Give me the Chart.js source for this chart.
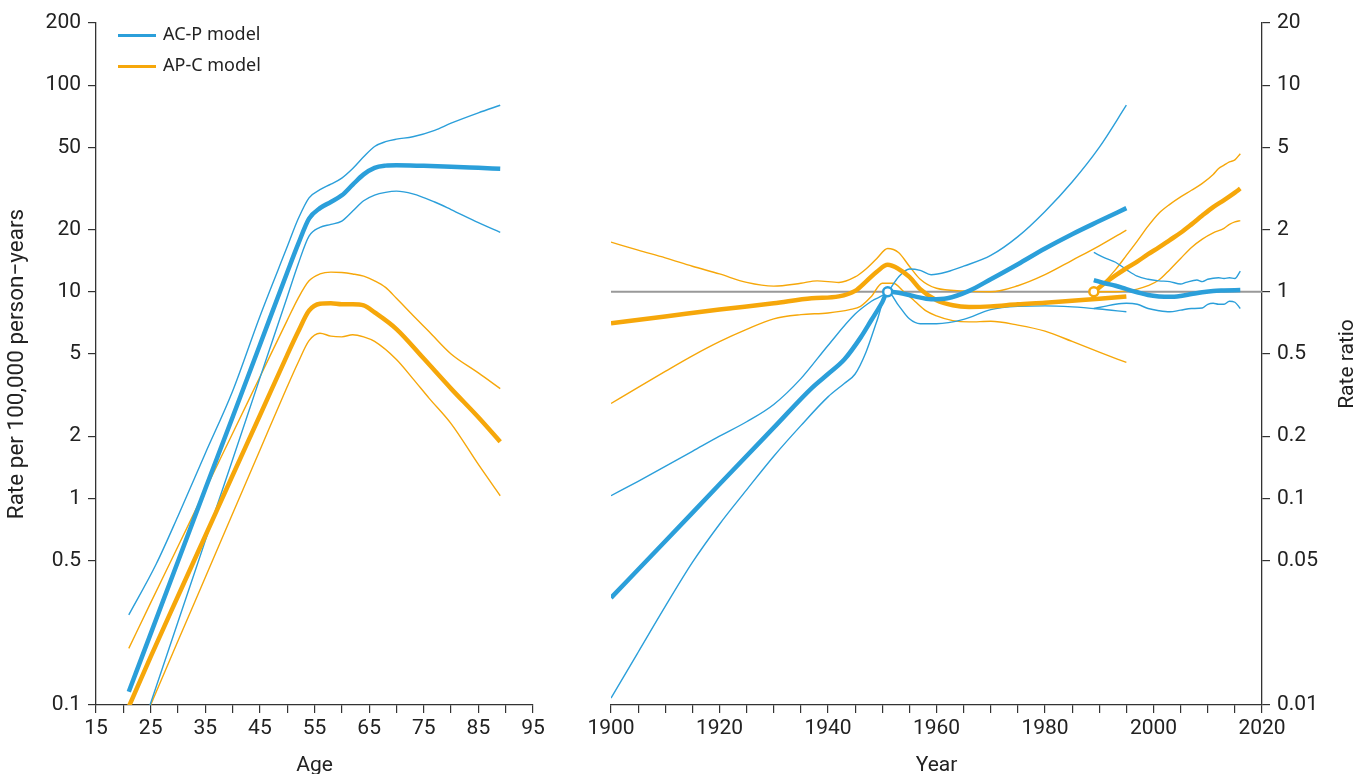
<!DOCTYPE html>
<html>
<head>
<meta charset="utf-8">
<script src="https://cdn.jsdelivr.net/npm/chart.js@4.4.1/dist/chart.umd.min.js"></script>
<style>
  html, body { margin: 0; padding: 0; background: #fff; }
  #wrap { position: relative; width: 1368px; height: 774px; overflow: hidden; }
  #ageChart { position: absolute; left: 0; top: 0; }
  #yearChart { position: absolute; left: 580px; top: 0; }
  .legend { position: absolute; left: 118px; font-family: 'Noto Sans', sans-serif; font-size: 18px; color: #222; }
  .legend span.swatch { position: absolute; left: 0; width: 38px; height: 3px; }
  .legend span.label { position: absolute; left: 45px; top: -13px; white-space: nowrap; }
</style>
</head>
<body>
<div id="wrap">
  <canvas id="ageChart" width="560" height="774"></canvas>
  <canvas id="yearChart" width="788" height="774"></canvas>
  <div class="legend" style="top:34px"><span class="swatch" style="background:#2b9fda"></span><span class="label">AC-P model</span></div>
  <div class="legend" style="top:65px"><span class="swatch" style="background:#f6a70a"></span><span class="label">AP-C model</span></div>
</div>
<script>
const BLUE = '#2b9fda';
const ORANGE = '#f6a70a';
const INK = '#222';
const AXIS = '#333';

// axis ticks
const ageTicks = [15, 20, 25, 30, 35, 40, 45, 50, 55, 60, 65, 70, 75, 80, 85, 90, 95];
const ageLabels = [15, 25, 35, 45, 55, 65, 75, 85, 95];
const yearTicks = [1900, 1905, 1910, 1915, 1920, 1925, 1930, 1935, 1940, 1945, 1950, 1955, 1960,
  1965, 1970, 1975, 1980, 1985, 1990, 1995, 2000, 2005, 2010, 2015, 2020];
const yearLabels = [1900, 1920, 1940, 1960, 1980, 2000, 2020];
const rateTicks = [0.1, 0.5, 1, 2, 5, 10, 20, 50, 100, 200];
const ratioTicks = [0.01, 0.05, 0.1, 0.2, 0.5, 1, 2, 5, 10, 20];

// age effect, AC-P model (rate per 100,000)
const acpAge = [21, 25, 30, 35, 40, 45, 50, 52, 54, 56, 58, 60, 62, 64, 66, 68, 70, 75, 80, 85, 89];
const acpRate = [0.116, 0.221, 0.495, 1.11, 2.47, 5.53, 12.4, 17.0, 22.6, 25.4, 27.2, 29.3, 33.0, 37.0, 39.8, 40.8, 41.0, 40.7, 40.3, 39.8, 39.4];
const acpUpAge = [21, 26, 30, 35, 40, 45, 50, 52, 54, 56, 58, 60, 62, 64, 66, 68, 70, 73, 77, 80, 85, 89];
const acpRateUp = [0.273, 0.48, 0.82, 1.65, 3.3, 7.6, 16.5, 22.5, 28.5, 31.2, 33.2, 35.5, 39.5, 45, 50.5, 53.3, 54.8, 56.3, 60.5, 65.5, 73.5, 80];
const acpLoAge = [21, 25, 30, 35, 40, 45, 50, 52, 54, 56, 58, 60, 62, 64, 66, 68, 70, 73, 77, 80, 85, 89];
const acpRateLo = [0.049, 0.102, 0.252, 0.623, 1.54, 3.82, 9.44, 13.6, 18.6, 20.5, 21.2, 22.0, 24.6, 27.6, 29.4, 30.3, 30.7, 29.8, 27.2, 25.0, 21.6, 19.4];

// age effect, AP-C model
const apcAge = [21, 25, 30, 35, 40, 45, 50, 52, 54, 56, 58, 60, 62, 64, 66, 70, 75, 80, 85, 89];
const apcRate = [0.098, 0.171, 0.336, 0.658, 1.29, 2.52, 4.94, 6.4, 8.1, 8.75, 8.8, 8.7, 8.7, 8.6, 7.95, 6.6, 4.75, 3.4, 2.47, 1.88];
const apcUpAge = [21, 25, 30, 35, 40, 45, 50, 52, 54, 56, 58, 60, 62, 64, 66, 68, 70, 73, 76, 80, 85, 89];
const apcRateUp = [0.188, 0.312, 0.585, 1.10, 2.06, 3.87, 7.27, 9.3, 11.3, 12.2, 12.45, 12.4, 12.2, 11.9, 11.3, 10.5, 9.3, 7.7, 6.4, 5.0, 4.05, 3.4];
const apcLoAge = [21, 25, 30, 35, 40, 45, 50, 52, 54, 56, 58, 60, 62, 64, 66, 70, 73, 76, 80, 85, 89];
const apcRateLo = [0.057, 0.1, 0.204, 0.414, 0.842, 1.71, 3.47, 4.55, 5.8, 6.3, 6.1, 6.05, 6.2, 6.05, 5.75, 4.7, 3.8, 3.05, 2.3, 1.46, 1.03];

// cohort effect (rate ratio), AC-P model
const acpCohYear = [1900, 1910, 1920, 1930, 1937, 1940, 1943, 1946, 1948, 1950, 1951, 1953, 1956, 1959, 1962, 1966, 1970, 1975, 1980, 1985, 1990, 1995];
const acpCohRR = [0.033, 0.062, 0.117, 0.22, 0.342, 0.40, 0.47, 0.6, 0.73, 0.89, 1.0, 0.99, 0.95, 0.92, 0.93, 1.01, 1.15, 1.36, 1.62, 1.9, 2.2, 2.54];
const acpCohUpYear = [1900, 1905, 1910, 1915, 1920, 1925, 1930, 1935, 1940, 1945, 1948, 1951, 1953, 1955, 1957, 1959, 1962, 1965, 1970, 1975, 1980, 1985, 1990, 1995];
const acpCohUp = [0.103, 0.121, 0.143, 0.169, 0.2, 0.235, 0.285, 0.38, 0.55, 0.78, 0.9, 1.0, 1.18, 1.29, 1.27, 1.21, 1.25, 1.33, 1.5, 1.85, 2.45, 3.4, 5.0, 8.0];
const acpCohLoYear = [1900, 1905, 1910, 1915, 1920, 1925, 1930, 1935, 1940, 1943, 1945, 1947, 1949, 1951, 1953, 1955, 1957, 1960, 1965, 1970, 1975, 1980, 1985, 1990, 1995];
const acpCohLo = [0.0108, 0.018, 0.03, 0.049, 0.075, 0.11, 0.16, 0.225, 0.31, 0.36, 0.40, 0.51, 0.72, 1.0, 0.86, 0.74, 0.70, 0.70, 0.735, 0.82, 0.85, 0.855, 0.845, 0.825, 0.80];

// cohort effect, AP-C model
const apcCohYear = [1900, 1910, 1920, 1930, 1937, 1942, 1945, 1947, 1949, 1951, 1953, 1955, 1957, 1960, 1963, 1966, 1970, 1975, 1980, 1985, 1990, 1995];
const apcCohRR = [0.705, 0.76, 0.82, 0.88, 0.93, 0.95, 1.01, 1.12, 1.25, 1.35, 1.29, 1.18, 1.03, 0.91, 0.86, 0.845, 0.85, 0.87, 0.885, 0.905, 0.925, 0.95];
const apcCohUpYear = [1900, 1905, 1910, 1915, 1920, 1925, 1930, 1935, 1938, 1942, 1945, 1947, 1949, 1951, 1953, 1955, 1957, 1960, 1965, 1970, 1975, 1980, 1985, 1990, 1995];
const apcCohUp = [1.74, 1.59, 1.46, 1.33, 1.22, 1.11, 1.065, 1.1, 1.13, 1.11, 1.18, 1.29, 1.45, 1.62, 1.55, 1.33, 1.15, 1.04, 1.01, 1.0, 1.07, 1.21, 1.42, 1.67, 1.99];
const apcCohLoYear = [1900, 1905, 1910, 1915, 1920, 1925, 1930, 1935, 1940, 1944, 1946, 1948, 1950, 1952, 1954, 1956, 1958, 1960, 1963, 1966, 1970, 1975, 1980, 1985, 1990, 1995];
const apcCohLo = [0.288, 0.345, 0.412, 0.49, 0.574, 0.658, 0.74, 0.775, 0.79, 0.82, 0.85, 0.95, 1.1, 1.1, 1.0, 0.9, 0.81, 0.765, 0.725, 0.715, 0.72, 0.69, 0.645, 0.575, 0.51, 0.455];

// period effect, AC-P model
const acpPerYear = [1989, 1991, 1993, 1995, 1997, 1999, 2001, 2003, 2005, 2007, 2009, 2011, 2013, 2016];
const acpPerRR = [1.14, 1.1, 1.07, 1.03, 0.995, 0.965, 0.95, 0.945, 0.955, 0.975, 0.995, 1.01, 1.015, 1.02];
const acpPerUpYear = [1989, 1991, 1993, 1995, 1997, 1999, 2001, 2003, 2005, 2006, 2008, 2009, 2010, 2012, 2013, 2014, 2015, 2016];
const acpPerUp = [1.55, 1.46, 1.39, 1.28, 1.19, 1.15, 1.13, 1.12, 1.09, 1.11, 1.14, 1.12, 1.15, 1.17, 1.16, 1.17, 1.16, 1.26];
const acpPerLoYear = [1989, 1991, 1993, 1995, 1997, 1999, 2001, 2003, 2005, 2007, 2009, 2010, 2011, 2012, 2013, 2014, 2015, 2016];
const acpPerLo = [0.83, 0.85, 0.87, 0.88, 0.87, 0.83, 0.81, 0.80, 0.815, 0.83, 0.835, 0.87, 0.88, 0.87, 0.87, 0.9, 0.89, 0.83];

// period effect, AP-C model
const apcPerYear = [1989, 1991, 1993, 1995, 1997, 1999, 2001, 2003, 2005, 2007, 2009, 2011, 2013, 2015, 2016];
const apcPerRR = [1.0, 1.1, 1.2, 1.3, 1.4, 1.52, 1.64, 1.78, 1.93, 2.12, 2.34, 2.57, 2.78, 3.02, 3.16];
const apcPerUpYear = [1989, 1991, 1993, 1995, 1997, 1999, 2001, 2003, 2005, 2007, 2009, 2011, 2012, 2013, 2014, 2015, 2016];
const apcPerUp = [1.0, 1.12, 1.28, 1.5, 1.76, 2.08, 2.4, 2.65, 2.88, 3.1, 3.35, 3.7, 3.95, 4.1, 4.25, 4.35, 4.66];
const apcPerLoYear = [1989, 1991, 1993, 1995, 1997, 1999, 2001, 2003, 2005, 2007, 2009, 2011, 2013, 2014, 2015, 2016];
const apcPerLo = [1.0, 1.0, 1.0, 1.01, 1.03, 1.07, 1.14, 1.28, 1.45, 1.64, 1.8, 1.93, 2.03, 2.12, 2.18, 2.21];

// reference points
const refLineYears = [1900, 2020];
const acpRefYear = 1951;
const apcRefYear = 1989;

const zip = (xs, ys) => xs.map((x, i) => ({x: x, y: ys[i]}));

function curve(xs, ys, color, thick) {
    return {
        data: zip(xs, ys),
        borderColor: color,
        borderWidth: thick ? 4.5 : 1.4,
        pointRadius: 0,
        cubicInterpolationMode: 'monotone',
        fill: false
    };
}

function marker(x, color) {
    return {
        data: [{x: x, y: 1}],
        showLine: false,
        pointRadius: 4.5,
        pointBorderWidth: 2.5,
        pointBorderColor: color,
        pointBackgroundColor: '#fff',
        order: -1
    };
}

const tickFont = {family: "Roboto, sans-serif", size: 21};
const titleFont = {family: "Roboto, sans-serif", size: 21, lineHeight: 1.2};

function xAxis(min, max, tickList, labelList, title) {
    return {
        type: 'linear', min: min, max: max,
        afterBuildTicks: s => { s.ticks = tickList.map(v => ({value: v})); },
        afterFit: s => { s.height = 69; },
        ticks: {
            autoSkip: false, maxRotation: 0, padding: 3, color: INK, font: tickFont,
            callback: v => labelList.includes(v) ? String(v) : ''
        },
        grid: {drawOnChartArea: false, tickLength: 8, color: AXIS, lineWidth: 1.2},
        border: {color: AXIS, width: 1.3},
        title: {display: true, text: title, color: INK, font: titleFont, padding: {top: 0, bottom: -4}}
    };
}

function yAxis(min, max, tickList, position, width, title) {
    return {
        type: 'logarithmic', min: min, max: max, position: position,
        afterBuildTicks: s => { s.ticks = tickList.map(v => ({value: v})); },
        afterFit: s => { s.width = width; },
        ticks: {autoSkip: false, padding: 7, color: INK, font: tickFont, callback: v => String(v)},
        grid: {drawOnChartArea: false, tickLength: 8, color: AXIS, lineWidth: 1.2},
        border: {color: AXIS, width: 1.3},
        title: {display: !!title, text: title || '', color: INK,
                font: {family: titleFont.family, size: 22.5, lineHeight: 1.2}, padding: {top: 4, bottom: 0}}
    };
}

// right-axis title reads bottom-to-top, draw it by hand
const ratioTitle = {
    id: 'ratioTitle',
    afterDraw(chart) {
        const ctx = chart.ctx;
        ctx.save();
        ctx.translate(768, (chart.chartArea.top + chart.chartArea.bottom) / 2);
        ctx.rotate(-Math.PI / 2);
        ctx.font = titleFont.size + 'px ' + titleFont.family;
        ctx.fillStyle = INK;
        ctx.textAlign = 'center';
        ctx.textBaseline = 'middle';
        ctx.fillText('Rate ratio', 0, 0);
        ctx.restore();
    }
};

const common = {
    responsive: false,
    animation: false,
    events: [],
    plugins: {legend: {display: false}, tooltip: {enabled: false}}
};

new Chart(document.getElementById('ageChart'), {
    type: 'line',
    data: {
        datasets: [
            curve(acpAge, acpRate, BLUE, true),
            curve(apcAge, apcRate, ORANGE, true),
            curve(acpUpAge, acpRateUp, BLUE, false),
            curve(acpLoAge, acpRateLo, BLUE, false),
            curve(apcUpAge, apcRateUp, ORANGE, false),
            curve(apcLoAge, apcRateLo, ORANGE, false)
        ]
    },
    options: Object.assign({}, common, {
        layout: {padding: {left: 0, right: 27, top: 23, bottom: 0}},
        scales: {
            x: xAxis(15, 95, ageTicks, ageLabels, 'Age'),
            y: yAxis(0.1, 200, rateTicks, 'left', 96, 'Rate per 100,000 person\u2212years')
        }
    })
});

new Chart(document.getElementById('yearChart'), {
    type: 'line',
    data: {
        datasets: [
            marker(acpRefYear, BLUE),
            marker(apcRefYear, ORANGE),
            curve(acpCohYear, acpCohRR, BLUE, true),
            curve(apcCohYear, apcCohRR, ORANGE, true),
            curve(acpPerYear, acpPerRR, BLUE, true),
            curve(apcPerYear, apcPerRR, ORANGE, true),
            curve(acpCohUpYear, acpCohUp, BLUE, false),
            curve(acpCohLoYear, acpCohLo, BLUE, false),
            curve(apcCohUpYear, apcCohUp, ORANGE, false),
            curve(apcCohLoYear, apcCohLo, ORANGE, false),
            curve(acpPerUpYear, acpPerUp, BLUE, false),
            curve(acpPerLoYear, acpPerLo, BLUE, false),
            curve(apcPerUpYear, apcPerUp, ORANGE, false),
            curve(apcPerLoYear, apcPerLo, ORANGE, false),
            {data: zip(refLineYears, [1, 1]), borderColor: '#999', borderWidth: 2, pointRadius: 0}
        ]
    },
    options: Object.assign({}, common, {
        layout: {padding: {left: 31, right: 0, top: 23, bottom: 0}},
        scales: {
            x: xAxis(1900, 2020, yearTicks, yearLabels, 'Year'),
            y: yAxis(0.01, 20, ratioTicks, 'right', 106, '')
        }
    }),
    plugins: [ratioTitle]
});
</script>
</body>
</html>
